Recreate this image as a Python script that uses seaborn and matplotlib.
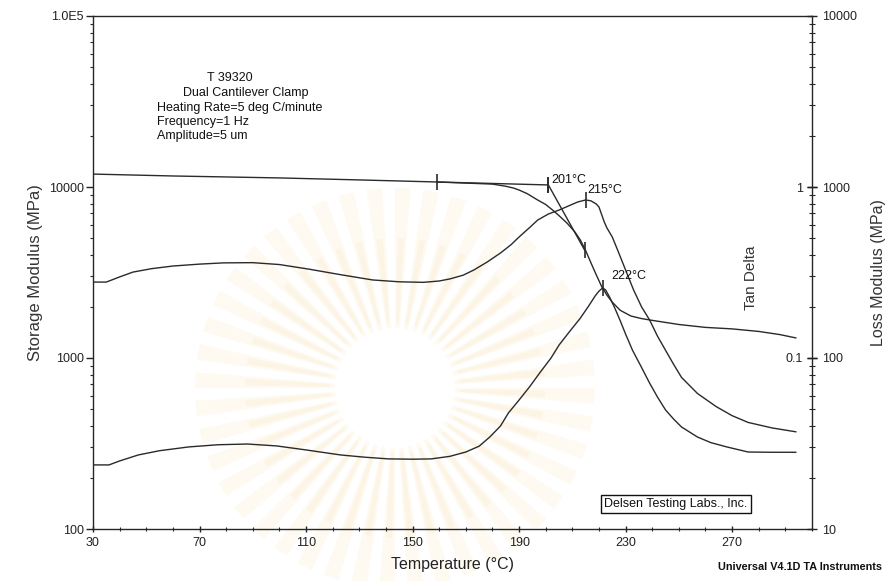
import numpy as np
import matplotlib
matplotlib.use("Agg")
import matplotlib.pyplot as plt
from matplotlib.patches import Wedge
from matplotlib.ticker import MultipleLocator, LogLocator, NullFormatter
import seaborn as sns

# --- data ---
storage_T = [30, 60, 100, 130, 159, 180, 185, 188, 190, 193, 197, 200, 202.6, 205, 208, 211,
             213, 215, 217, 219, 221, 223, 225, 228, 232, 236, 240, 250, 260, 270, 280, 288, 294]
storage_MPa = [11900, 11600, 11300, 11000, 10700, 10400, 10100, 9850, 9600, 9150, 8390, 7900,
               7330, 6800, 6150, 5450, 4900, 4250, 3600, 3060, 2620, 2330, 2120, 1900, 1760,
               1700, 1660, 1570, 1510, 1480, 1430, 1370, 1310]

loss_T = [30, 35, 40, 45, 52, 60, 70, 79, 90, 100, 111, 123, 135, 145, 154, 160, 164, 169, 173,
          178, 183, 187, 190, 194, 197, 201, 205, 209, 212, 215, 217, 219, 220, 222, 223, 225,
          227, 230, 233, 236, 239, 242, 245, 248, 251, 257, 264, 270, 276, 285, 294]
loss_MPa = [278, 278, 298, 318, 333, 345, 354, 360, 361, 352, 331, 307, 286, 279, 277, 282, 290,
            305, 327, 364, 411, 460, 510, 580, 641, 695, 733, 780, 817, 840, 830, 795, 764, 624,
            576, 510, 428, 327, 250, 199, 167, 134, 111, 92, 77, 62, 52, 46, 42, 39, 37]

tan_T = [30, 33, 36, 40, 47, 55, 66, 77, 88, 99, 110, 123, 132, 141, 150, 157, 164, 170, 175,
         179, 183, 186, 190, 194, 198, 202, 205, 209, 213, 216, 218.6, 220, 221.4, 222.5, 224,
         226, 228, 230, 232.6, 236, 239, 242, 245, 248, 251, 257, 262, 268, 276, 285, 294]
tan_delta = [0.0237, 0.0237, 0.0237, 0.0250, 0.0271, 0.0287, 0.0302, 0.0311, 0.0314, 0.0306,
             0.0290, 0.0271, 0.0263, 0.0257, 0.0256, 0.0257, 0.0266, 0.0282, 0.0305, 0.0345,
             0.0400, 0.0477, 0.0568, 0.0680, 0.0828, 0.100, 0.119, 0.143, 0.171, 0.200, 0.231,
             0.246, 0.257, 0.250, 0.227, 0.195, 0.165, 0.138, 0.111, 0.088, 0.0714, 0.059,
             0.0497, 0.0440, 0.0395, 0.0345, 0.0320, 0.0302, 0.0282, 0.0281, 0.0281]

# onset construction on storage modulus
onset_flat_T = [159, 201]
onset_flat_E = [10700, 10280]
onset_steep_T = [201, 214.6]
onset_steep_E = [10280, 4280]

# peaks
loss_peak = (215, 840)
tan_peak = (221.4, 0.257)

info_lines = ["T 39320", "Dual Cantilever Clamp", "Heating Rate=5 deg C/minute",
              "Frequency=1 Hz", "Amplitude=5 um"]

sns.set_theme(style="ticks")
plt.rcParams['font.family'] = ['Liberation Sans', 'DejaVu Sans']
plt.rcParams['axes.linewidth'] = 1.0

W, H = 888, 581
fig = plt.figure(figsize=(W / 100, H / 100), dpi=100)
fig.patch.set_facecolor('white')

# faint watermark behind the chart
bg = fig.add_axes([0, 0, 1, 1], zorder=-5)
bg.set_xlim(0, W)
bg.set_ylim(H, 0)
bg.axis('off')
for k in range(44):
    a0 = k * 360 / 44
    bg.add_patch(Wedge((395, 388), 200, a0, a0 + 4.5, width=140,
                       color='#f4cf73', alpha=0.09, lw=0))
    bg.add_patch(Wedge((395, 388), 150, a0 + 1, a0 + 3.5, width=85,
                       color='#eeb54a', alpha=0.08, lw=0))

L, R, T, B = 93, 812, 16, 529
ax = fig.add_axes([L / W, 1 - B / H, (R - L) / W, (B - T) / H])
ax.set_facecolor('none')
ax2 = ax.twinx()
ax3 = ax.twinx()

col = '#2a2a2a'
mk = dict(marker='|', markersize=11, markeredgewidth=1.2, markeredgecolor=col)
sns.lineplot(x=storage_T, y=storage_MPa, ax=ax, color=col, lw=1.0)
sns.lineplot(x=onset_flat_T, y=onset_flat_E, ax=ax, color=col, lw=1.0, **mk)
sns.lineplot(x=onset_steep_T, y=onset_steep_E, ax=ax, color=col, lw=1.0, **mk)
sns.lineplot(x=loss_T, y=loss_MPa, ax=ax2, color=col, lw=1.0)
sns.lineplot(x=[loss_peak[0]], y=[loss_peak[1]], ax=ax2, color=col, **mk)
sns.lineplot(x=tan_T, y=tan_delta, ax=ax3, color=col, lw=1.0)
sns.lineplot(x=[tan_peak[0]], y=[tan_peak[1]], ax=ax3, color=col, **mk)

ax.set_xlim(30, 300)
ax.set_yscale('log')
ax.set_ylim(100, 1e5)
ax2.set_yscale('log')
ax2.set_ylim(10, 1e4)
ax3.set_yscale('log')
ax3.set_ylim(0.01, 10)

tick_fs = 9
# x axis
ax.set_xticks(range(30, 271, 40))
ax.xaxis.set_minor_locator(MultipleLocator(10))
ax.tick_params(axis='x', which='major', direction='inout', length=5, width=1, pad=3,
               labelsize=tick_fs, colors='#222')
ax.tick_params(axis='x', which='minor', direction='inout', length=3.5, width=0.8)
# left axis
ax.set_yticks([100, 1000, 10000, 100000])
ax.set_yticklabels(['100', '1000', '10000', '1.0E5'])
ax.yaxis.set_minor_locator(LogLocator(base=10, subs=np.arange(2, 10)))
ax.yaxis.set_minor_formatter(NullFormatter())
ax.tick_params(axis='y', which='major', direction='out', length=5, width=1, pad=1.5,
               labelsize=tick_fs, colors='#222')
ax.tick_params(axis='y', which='minor', direction='out', length=2, width=0.8)
ax.spines['right'].set_visible(False)

# loss axis (outer right)
ax2.set_yticks([10, 100, 1000, 10000])
ax2.set_yticklabels(['10', '100', '1000', '10000'])
ax2.yaxis.set_minor_locator(LogLocator(base=10, subs=np.arange(2, 10)))
ax2.yaxis.set_minor_formatter(NullFormatter())
ax2.tick_params(axis='y', which='major', direction='inout', length=7, width=1, pad=4,
                labelsize=tick_fs, colors='#222')
ax2.tick_params(axis='y', which='minor', direction='inout', length=5, width=0.8)
for s in ['left', 'top', 'bottom']:
    ax2.spines[s].set_visible(False)

# tan delta axis (labels inside, on the right spine)
for s in ['right', 'top', 'bottom']:
    ax3.spines[s].set_visible(False)
ax3.spines['left'].set_position(('axes', 1.0))
ax3.spines['left'].set_visible(False)
ax3.yaxis.set_ticks_position('left')
ax3.yaxis.set_label_position('left')
ax3.set_yticks([0.1, 1])
ax3.set_yticklabels(['0.1', '1'])
ax3.yaxis.set_minor_locator(LogLocator(base=10, subs=np.arange(2, 10)))
ax3.yaxis.set_minor_formatter(NullFormatter())
ax3.tick_params(axis='y', which='major', direction='inout', length=7, width=1, pad=3,
                labelsize=tick_fs, colors='#222')
ax3.tick_params(axis='y', which='minor', length=0)

# axis labels
ax.set_xlabel('Temperature (°C)', fontsize=11.5, color='#222')
ax.xaxis.set_label_coords(0.5, -0.054)
ax.set_ylabel('Storage Modulus (MPa)', fontsize=12, color='#333')
ax.yaxis.set_label_coords(-0.07, 0.50)
ax2.set_ylabel('Loss Modulus (MPa)', fontsize=11.5, color='#333')
ax2.yaxis.set_label_coords(1.082, 0.50)
ax3.set_ylabel('Tan Delta', fontsize=11, color='#333')
ax3.yaxis.set_label_coords(0.925, 0.49)


def axc(px, py):
    return (px - L) / (R - L), (B - py) / (B - T)


# info block
info_pos = [(207, 78), (183, 93), (157, 108), (157, 122), (157, 136)]
for line, (px, py) in zip(info_lines, info_pos):
    ax.text(*axc(px, py), line, transform=ax.transAxes, fontsize=9, ha='left', va='center',
            color='#111')

# peak / onset labels
ax.text(202, 11000, '201°C', fontsize=9, ha='left', va='center', color='#111')
ax2.text(215.5, 960, '215°C', fontsize=9, ha='left', va='center', color='#111')
ax3.text(224.5, 0.30, '222°C', fontsize=9, ha='left', va='center', color='#111')

ax.text(*axc(676, 504), 'Delsen Testing Labs., Inc.', transform=ax.transAxes, fontsize=9,
        ha='center', va='center', color='#111',
        bbox=dict(boxstyle='square,pad=0.25', fc='white', ec='#111', lw=1))

fig.text(718 / W, 1 - 567 / H, 'Universal V4.1D TA Instruments', fontsize=7.8,
         fontweight='bold', ha='left', va='center', color='#111')

fig.savefig('out.png', dpi=100)
